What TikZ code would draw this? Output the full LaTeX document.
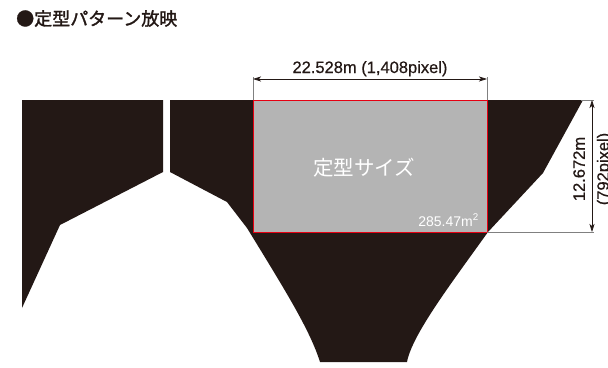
\documentclass[tikz,border=0pt]{standalone}
\usepackage{fontspec}
\setmainfont{Liberation Sans}
\newfontfamily\jpfont{Noto Sans CJK JP}
\newfontfamily\jptitlefont[FakeBold=1.6]{Noto Sans CJK JP}
\newfontfamily\dimfont[FakeBold=0.6]{Liberation Sans}
\usetikzlibrary{arrows.meta}
\definecolor{inkblack}{HTML}{231815}
\definecolor{sizegray}{HTML}{B4B4B4}
\definecolor{sizered}{HTML}{E60012}
\tikzset{
  screenpart/.style={fill=inkblack, draw=none},
  sizebox/.style={fill=sizegray, draw=sizered, line width=0.9pt, inner sep=0pt, outer sep=0pt,
    minimum width=234pt, minimum height=132pt},
  dimarrow/.style={{Stealth[length=8pt,width=5pt,inset=2pt]}-{Stealth[length=8pt,width=5pt,inset=2pt]},
    line width=0.7pt, draw=inkblack},
  extline/.style={draw=gray, line width=0.8pt},
  dimtext/.style={font=\dimfont\fontsize{16.5}{24}\selectfont, inner sep=0pt, text=inkblack}
}
\begin{document}
\begin{tikzpicture}[x=1pt,y=-1pt]
    \useasboundingbox (0,0) rectangle (608,367);
    \node[anchor=west, inner sep=0pt, text=inkblack, font=\jptitlefont\fontsize{18}{18}\selectfont] (title)
    at (16,18.5) {●定型パターン放映};
    % screen
    \fill[screenpart] (22,100) -- (163,100) -- (163,172) -- (60,225) -- (22,308) -- cycle;
    \fill[screenpart] (170,100) -- (583,100) -- (543,173) -- (488,232)
          .. controls (450,285) and (412,335) .. (407,362) -- (320,362)
          .. controls (310,330) and (285,290) .. (247,228) -- (227,202) -- (170,172) -- cycle;
    \node[sizebox] (size) at (370,166) {};
    \node[font=\jpfont\fontsize{20.5}{20.5}\selectfont, text=white, inner sep=0pt] (sizename)
    at (364,168) {定型サイズ};
    \node[anchor=base east, inner sep=0pt, text=white, font=\fontsize{14}{14}\selectfont] (area)
    at (479,226) {285.47m\textsuperscript{2}};
    % width
    \coordinate (wl) at (253,79);
    \coordinate (wr) at (487,79);
    \draw[extline] (size.north west) -- ([yshift=2pt]wl);
    \draw[extline] (size.north east) -- ([yshift=2pt]wr);
    \draw[dimarrow] (wl) -- (wr)
          node[midway, anchor=base, yshift=6pt, dimtext] (widthlabel) {22.528m (1,408pixel)};
    % height
    \coordinate (ht) at (592,100);
    \coordinate (hb) at (592,232);
    \coordinate (rt) at (581,100);
    \draw[extline] (rt) -- ([xshift=2pt]ht);
    \draw[extline] (size.south east) -- ([xshift=2pt]hb);
    \draw[dimarrow] (ht) -- (hb);
    \node[dimtext, rotate=90, align=center] (heightlabel) at (592.75,169) {12.672m\\(792pixel)};
\end{tikzpicture}
\end{document}
